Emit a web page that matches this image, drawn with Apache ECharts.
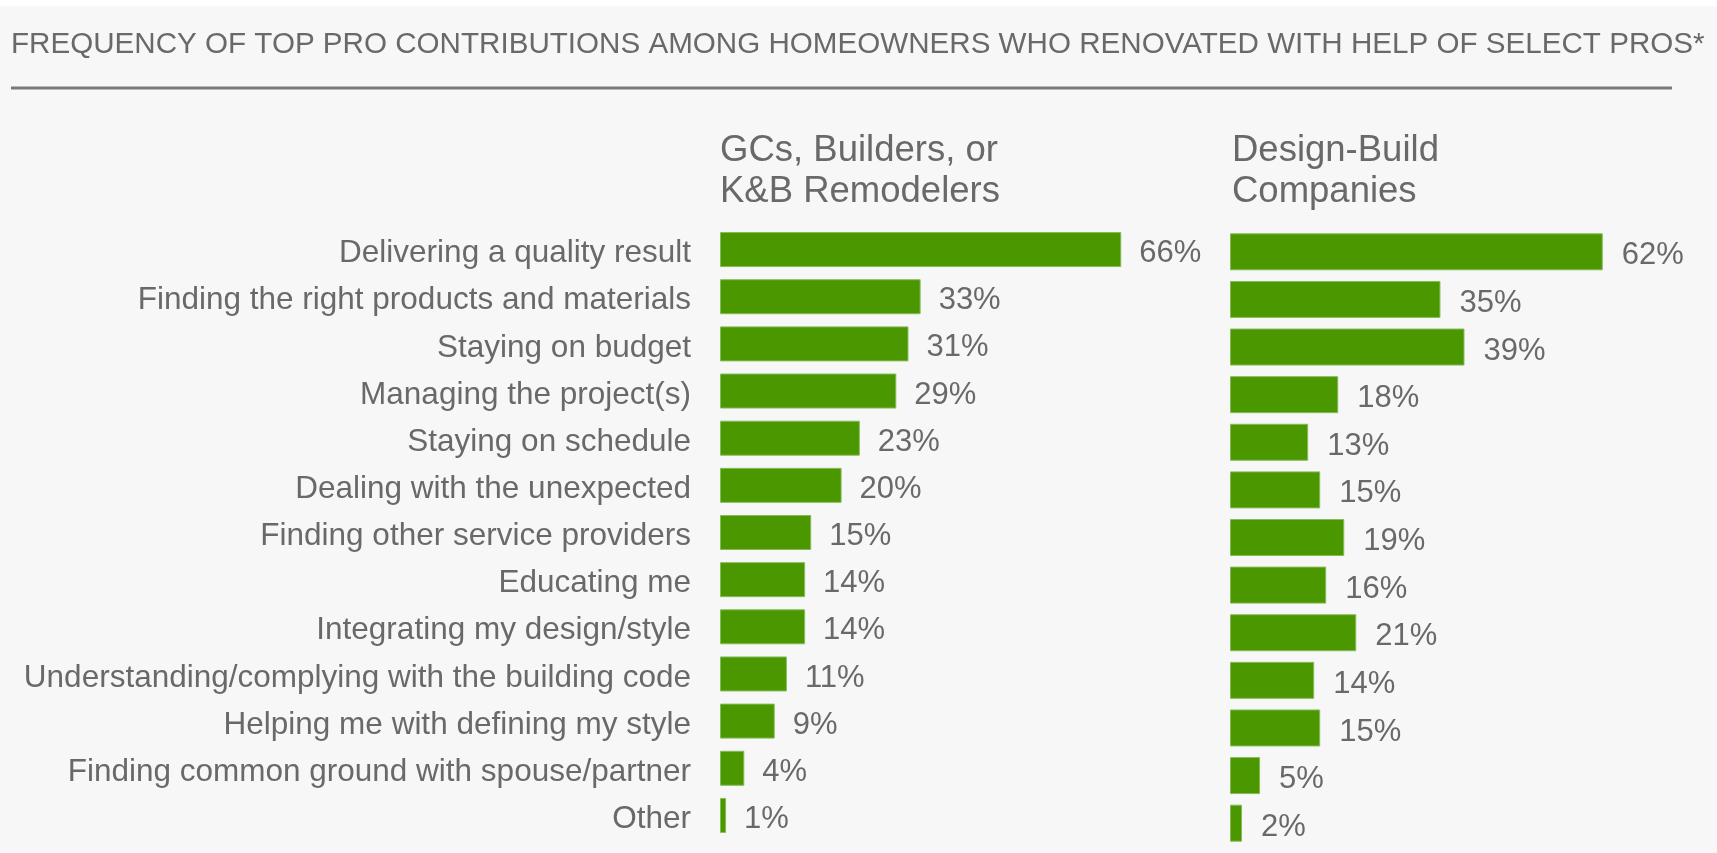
<!DOCTYPE html>
<html>
<head>
<meta charset="utf-8">
<script src="https://cdn.jsdelivr.net/npm/echarts@6/dist/echarts.min.js"></script>
<style>
  html, body { margin: 0; padding: 0; background: #f7f7f7; }
  #main { width: 1717px; height: 853px; }
</style>
</head>
<body>
<div id="main"></div>
<script>
// top pro contributions, two groups of pros
var categories = [
    'Delivering a quality result',
    'Finding the right products and materials',
    'Staying on budget',
    'Managing the project(s)',
    'Staying on schedule',
    'Dealing with the unexpected',
    'Finding other service providers',
    'Educating me',
    'Integrating my design/style',
    'Understanding/complying with the building code',
    'Helping me with defining my style',
    'Finding common ground with spouse/partner',
    'Other'
];
var gcValues = [66, 33, 31, 29, 23, 20, 15, 14, 14, 11, 9, 4, 1];
var dbValues = [62, 35, 39, 18, 13, 15, 19, 16, 21, 14, 15, 5, 2];
var headers = ['GCs, Builders, or\nK&B Remodelers', 'Design-Build\nCompanies'];
var titleText = 'FREQUENCY OF TOP PRO CONTRIBUTIONS AMONG HOMEOWNERS WHO RENOVATED WITH HELP OF SELECT PROS*';

var FONT = 'Liberation Sans';
var TXT = '#696969';
var GREEN = '#4a9700';

var dom = document.getElementById('main');
var myChart = echarts.init(dom);
var option = {
    backgroundColor: '#f7f7f7',
    animation: false,
    textStyle: { fontFamily: FONT },
    grid: [
        { left: 720, width: 608, top: 226, height: 613 },
        { left: 1230, width: 481, top: 228, height: 619 }
    ],
    xAxis: [
        { gridIndex: 0, type: 'value', min: 0, max: 100, show: false },
        { gridIndex: 1, type: 'value', min: 0, max: 80, show: false }
    ],
    yAxis: [
        {
            gridIndex: 0, type: 'category', data: categories, inverse: true,
            axisLine: { show: false }, axisTick: { show: false },
            axisLabel: {
                margin: 29, color: TXT, fontSize: 31.5, fontFamily: FONT,
                verticalAlign: 'top', lineHeight: 8
            }
        },
        {
            gridIndex: 1, type: 'category', data: categories, inverse: true,
            axisLine: { show: false }, axisTick: { show: false },
            axisLabel: { show: false }
        }
    ],
    series: [
        {
            type: 'bar', xAxisIndex: 0, yAxisIndex: 0, data: gcValues, barWidth: 35,
            itemStyle: { color: GREEN, borderColor: '#86bb5a', borderWidth: 1 },
            label: {
                show: true, position: 'right', distance: 18, formatter: '{c}%', offset: [0, 4],
                color: TXT, fontSize: 31, fontFamily: FONT
            }
        },
        {
            type: 'bar', xAxisIndex: 1, yAxisIndex: 1, data: dbValues, barWidth: 37,
            itemStyle: { color: GREEN, borderColor: '#86bb5a', borderWidth: 1 },
            label: {
                show: true, position: 'right', distance: 19, formatter: '{c}%', offset: [0, 4],
                color: TXT, fontSize: 31, fontFamily: FONT
            }
        }
    ],
    graphic: [
        { type: 'rect', shape: { x: 0, y: 0, width: 1717, height: 6 }, style: { fill: '#ffffff' } },
        {
            type: 'text', left: 11, top: 30,
            style: { text: titleText, fill: TXT, font: '29.6px "Liberation Sans"' }
        },
        {
            type: 'line', shape: { x1: 11, y1: 88, x2: 1672, y2: 88 },
            style: { stroke: '#7a7a7a', lineWidth: 3 }
        },
        {
            type: 'text', left: 720, top: 130,
            style: { text: headers[0], fill: TXT, font: '36.5px "Liberation Sans"', lineHeight: 41 }
        },
        {
            type: 'text', left: 1232, top: 130,
            style: { text: headers[1], fill: TXT, font: '36.5px "Liberation Sans"', lineHeight: 41 }
        }
    ]
};
if (option && typeof option === 'object') {
    myChart.setOption(option);
}
</script>
</body>
</html>
